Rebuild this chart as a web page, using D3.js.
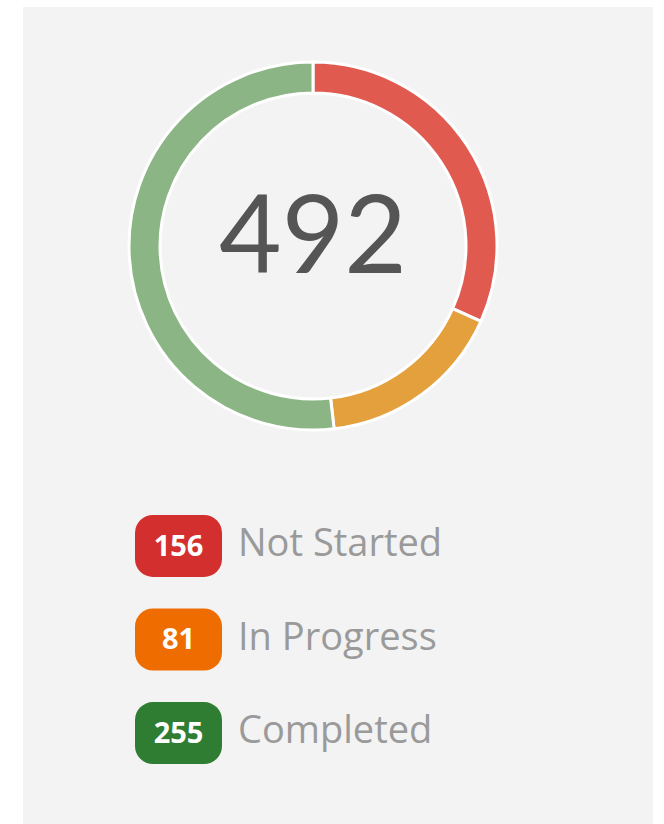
<!DOCTYPE html>
<html>
<head>
<meta charset="utf-8">
<script src="https://cdn.jsdelivr.net/npm/d3@7"></script>
<style>
    body { margin: 0; background: #fff; }
    svg { display: block; }
</style>
</head>
<body>
<svg id="chart"></svg>
<script>
const categories = ["Not Started", "In Progress", "Completed"];
const values = [156, 81, 255];
const ringColors = ["#e05a50", "#e3a03c", "#8bb584"];
const badgeColors = ["#d32f2f", "#ef6c00", "#2e7d32"];

const width = 664, height = 824;
const cx = 313, cy = 246;
const outerR = 184, innerR = 153;

const svg = d3.select("#chart")
    .attr("width", width)
    .attr("height", height);

// card background
svg.append("rect")
    .attr("x", 23).attr("y", 7)
    .attr("width", 630).attr("height", height - 7)
    .attr("fill", "#f3f3f3");

const pie = d3.pie().sort(null).value(d => d);
const arc = d3.arc().innerRadius(innerR).outerRadius(outerR);

const ring = svg.append("g")
    .attr("transform", `translate(${cx}, ${cy})`);

ring.selectAll("path")
    .data(pie(values))
    .join("path")
    .attr("d", arc)
    .attr("fill", (d, i) => ringColors[i])
    .attr("stroke", "#fff")
    .attr("stroke-width", 3);

ring.append("text")
    .attr("text-anchor", "middle")
    .attr("y", 27)
    .attr("font-family", "Lato, 'Open Sans', sans-serif")
    .attr("font-size", "108px")
    .attr("fill", "#555")
    .text(d3.sum(values));

// legend
const y = d3.scaleBand().domain(categories).range([515, 764]).paddingInner(0.337);

const item = svg.append("g").selectAll("g")
    .data(categories)
    .join("g")
    .attr("transform", d => `translate(135, ${y(d)})`);

item.append("rect")
    .attr("width", 87)
    .attr("height", y.bandwidth())
    .attr("rx", 18)
    .attr("fill", (d, i) => badgeColors[i]);

item.append("text")
    .attr("x", 43.5)
    .attr("y", y.bandwidth() / 2 + 10)
    .attr("text-anchor", "middle")
    .attr("font-family", "'Open Sans', sans-serif")
    .attr("font-weight", "bold")
    .attr("font-size", "29px")
    .attr("fill", "#fff")
    .text((d, i) => values[i]);

item.append("text")
    .attr("x", 103)
    .attr("y", y.bandwidth() / 2 + 10)
    .attr("font-family", "'Open Sans', sans-serif")
    .attr("font-size", "38px")
    .attr("fill", "#9a9a9a")
    .text(d => d);
</script>
</body>
</html>
